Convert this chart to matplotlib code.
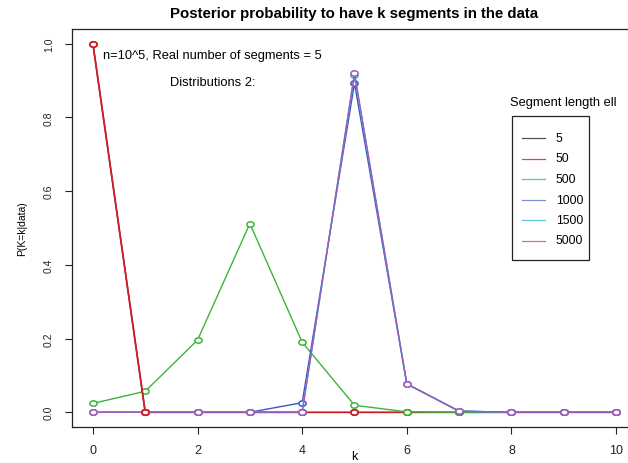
import matplotlib
matplotlib.use("Agg")
import matplotlib.pyplot as plt
from matplotlib.lines import Line2D
from matplotlib.patches import Rectangle
from matplotlib.path import Path
import numpy as np

k = list(range(11))
p5 = [1.0, 0, 0, 0, 0, 0, 0, 0, 0, 0, 0]
p50 = [1.0, 0, 0, 0, 0, 0, 0, 0, 0, 0, 0]
p500 = [0.024, 0.057, 0.196, 0.512, 0.19, 0.019, 0.001, 0.0, 0, 0, 0]
p1000 = [0, 0, 0, 0, 0.026, 0.893, 0.077, 0.003, 0, 0, 0]
p1500 = [0, 0, 0, 0, 0.002, 0.915, 0.077, 0.003, 0, 0, 0]
p5000 = [0, 0, 0, 0, 0, 0.92, 0.077, 0.003, 0, 0, 0]
series_labels = ["5", "50", "500", "1000", "1500", "5000"]
xticks = [0, 2, 4, 6, 8, 10]
yticks = [0.0, 0.2, 0.4, 0.6, 0.8, 1.0]
ytick_labels = ["0.0", "0.2", "0.4", "0.6", "0.8", "1.0"]

plt.rcParams['font.family'] = ['Liberation Sans', 'DejaVu Sans']

fig = plt.figure(figsize=(6.28, 4.64), dpi=100)
W, H = 628, 464
ax = fig.add_axes([72 / W, (H - 428) / H, (637 - 72) / W, (428 - 30) / H])

def fx(px):
    return px / W

def fy(py):
    return 1 - py / H

# horizontally stretched circle marker (R output looks widened)
circ = Path.unit_circle()
ell = Path(circ.vertices * np.array([1.35, 1.0]), circ.codes)

line_colors = ['#333333', '#d01c24', '#3cb43c', '#3858c8', '#30b8c8', '#a058bc']
legend_colors = ['#555555', '#e04848', '#6cc86c', '#7890d0', '#5cc8d8', '#d068b8']
data = [p5, p50, p500, p1000, p1500, p5000]
zorders = {0: 2, 2: 4, 3: 5, 4: 6, 5: 7}
mk = dict(marker=ell, ms=5.2, mfc='white')
for i in [0, 2, 3, 4, 5]:
    ax.plot(k, data[i], color=line_colors[i], lw=1.0, mec=line_colors[i], mew=1.1,
            zorder=zorders[i], **mk)
ax.plot(k[:2], p50[:2], color=line_colors[1], lw=1.3, mec=line_colors[1], mew=1.3,
        zorder=8, **mk)
ax.plot(k[1:], p50[1:], color=line_colors[1], lw=1.0, mec=line_colors[1], mew=1.3,
        zorder=3, **mk)

ax.set_xlim(-0.4, 10.4)
ax.set_ylim(-0.04, 1.04)
ax.set_xticks(xticks)
ax.set_yticks(yticks)
ax.set_yticklabels(ytick_labels, rotation=90, va='center')
ax.tick_params(direction='out', length=5, width=0.8, colors='#222222')
ax.tick_params(axis='x', labelsize=9, pad=7)
ax.tick_params(axis='y', labelsize=7.5, pad=8)
for s in ax.spines.values():
    s.set_linewidth(0.9)
    s.set_color('#222222')

ax.set_ylabel('P(K=k|data)', fontsize=7.5, labelpad=12)
fig.text(fx(354), fy(457), 'k', ha='center', va='center', fontsize=9)
fig.text(fx(354), fy(14), 'Posterior probability to have k segments in the data',
         ha='center', va='center', fontsize=10.8, fontweight='bold')

fig.text(fx(103), fy(56), 'n=10^5, Real number of segments = 5', fontsize=9.3,
         va='center', ha='left')
fig.text(fx(170), fy(83), 'Distributions 2:', fontsize=9.3, va='center', ha='left')
fig.text(fx(510), fy(103), 'Segment length ell', fontsize=9.3, va='center', ha='left')

# legend box drawn in figure pixel space
fig.add_artist(Rectangle((fx(512), fy(261)), fx(589) - fx(512), fy(117) - fy(261),
                         transform=fig.transFigure, fill=False, ec='#222222', lw=0.9))
row_y = [139, 159.5, 180, 200.5, 221, 241.5]
for c, lab, yy in zip(legend_colors, series_labels, row_y):
    fig.add_artist(Line2D([fx(522), fx(545)], [fy(yy), fy(yy)], color=c, lw=0.9,
                          transform=fig.transFigure))
    fig.text(fx(556), fy(yy), lab, fontsize=8.7, va='center', ha='left')

fig.savefig('out.png', dpi=100)
